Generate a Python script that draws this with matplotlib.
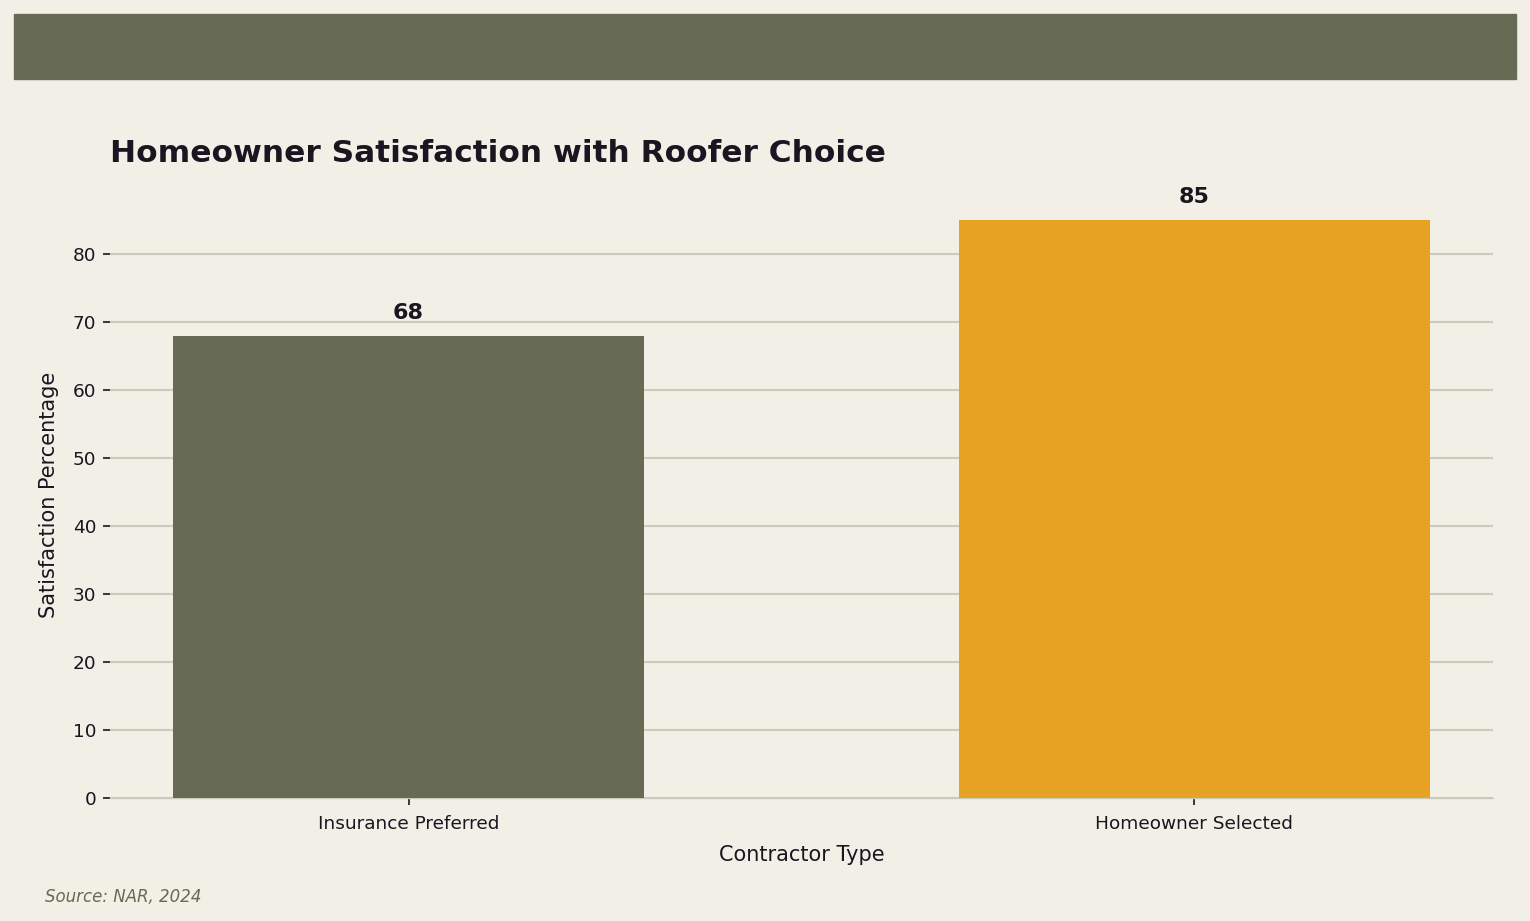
import matplotlib
matplotlib.use('Agg')
import matplotlib.pyplot as plt
import matplotlib.patches

BG = '#F2EFE6'
OLIVE = '#676B54'
ORANGE = '#E8A223'
INK = '#1A1520'

categories = ['Insurance Preferred', 'Homeowner Selected']
satisfaction = [68, 85]
bar_colors = [OLIVE, ORANGE]

fig = plt.figure(figsize=(15.3, 9.21), dpi=100, facecolor=BG)
ax = fig.add_axes([110 / 1530, 1 - 798 / 921, 1383 / 1530, 607 / 921])
ax.set_facecolor(BG)

# header band
band = matplotlib.patches.Rectangle((14 / 1530, 1 - 79 / 921), 1502 / 1530, 65 / 921,
                                    transform=fig.transFigure, color=OLIVE, zorder=0)
fig.patches.append(band)

bars = ax.bar(categories, satisfaction, width=0.6, color=bar_colors, zorder=3)
for rect, v in zip(bars, satisfaction):
    ax.annotate(str(v), (rect.get_x() + rect.get_width() / 2, v),
                xytext=(0, 9), textcoords='offset points',
                ha='center', va='bottom', fontsize=16, fontweight='bold', color=INK)

ax.yaxis.grid(True, color='#CCCABB', linewidth=1.5, zorder=0)
ax.set_axisbelow(True)
for s in ['top', 'right', 'left']:
    ax.spines[s].set_visible(False)
ax.spines['bottom'].set_color('#CCCABB')
ax.spines['bottom'].set_linewidth(1.0)

ax.tick_params(axis='both', colors=INK, labelsize=13.3, length=5, width=1.2)
ax.tick_params(axis='x', pad=7)
ax.tick_params(axis='y', pad=5)
ax.set_yticks(range(0, 90, 10))

ax.set_xlabel('Contractor Type', fontsize=15, color=INK, labelpad=9)
ax.set_ylabel('Satisfaction Percentage', fontsize=15, color=INK, labelpad=10)
ax.set_title('Homeowner Satisfaction with Roofer Choice', loc='left', fontsize=22.5,
             fontweight='bold', color=INK, pad=21)

fig.text(45 / 1530, 1 - 897 / 921, 'Source: NAR, 2024', fontsize=12, style='italic',
         color=OLIVE, va='center', ha='left')

fig.savefig('out.png', dpi=100, facecolor=BG)
